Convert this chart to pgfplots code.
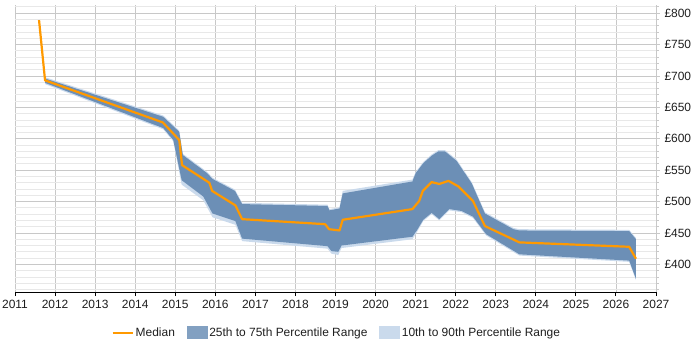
\documentclass[border=0pt]{standalone}
\usepackage{fontspec}
\setmainfont{Liberation Sans}
\usepackage{pgfplots}
\pgfplotsset{compat=1.18}

\definecolor{medianorange}{RGB}{255,153,0}
\definecolor{iqrblue}{RGB}{108,143,182}
\definecolor{decileblue}{RGB}{202,218,236}
\definecolor{majgrid}{RGB}{200,200,200}
\definecolor{mingrid}{RGB}{232,232,232}
\definecolor{labeltext}{RGB}{30,30,30}

\begin{document}
\begin{tikzpicture}
\path[use as bounding box] (-15bp,-58bp) rectangle (685bp,292bp);
\begin{axis}[
  at={(0,0)}, anchor=south west,
  scale only axis, width=641bp, height=287bp,
  xmin=2011, xmax=2027, ymin=356, ymax=813,
  axis x line*=bottom, axis y line*=right,
  x axis line style={-, black, line width=0.9bp},
  y axis line style={-, majgrid, line width=0.8bp},
  xtick={2011,2012,2013,2014,2015,2016,2017,2018,2019,2020,2021,2022,2023,2024,2025,2026,2027},
  xticklabels={2011,2012,2013,2014,2015,2016,2017,2018,2019,2020,2021,2022,2023,2024,2025,2026,2027},
  ytick={400,450,500,550,600,650,700,750,800},
  yticklabels={£400,£450,£500,£550,£600,£650,£700,£750,£800},
  minor ytick={360,370,380,390,410,420,430,440,460,470,480,490,510,520,530,540,560,570,580,590,610,620,630,640,660,670,680,690,710,720,730,740,760,770,780,790,810},
  tick align=outside,
  major tick length=4bp, minor tick length=3bp,
  xtick style={black, line width=0.9bp},
  ytick style={majgrid, line width=0.8bp},
  minor tick style={mingrid},
  xmajorgrids, ymajorgrids, yminorgrids,
  major grid style={majgrid, line width=0.8bp},
  minor grid style={mingrid, line width=0.8bp},
  ticklabel style={font=\fontsize{12}{14}\selectfont, text=labeltext},
  xticklabel style={yshift=-0.5bp},
  yticklabel style={xshift=1bp},
  legend columns=3,
  legend style={draw=none, fill=none, at={(0.502,-0.143)}, anchor=center,
    font=\fontsize{12}{14}\selectfont, text=labeltext,
    /tikz/every even column/.append style={column sep=10bp}},
]
% legend entries in display order
\addlegendimage{legend image code/.code={\draw[medianorange, line width=2.2bp] (0bp,0bp) -- (20bp,0bp);}}
\addlegendentry{Median}
\addlegendimage{legend image code/.code={\fill[iqrblue!85!white] (0bp,-5.5bp) rectangle (20bp,6.5bp);}}
\addlegendentry{25th to 75th Percentile Range}
\addlegendimage{legend image code/.code={\fill[decileblue] (0bp,-5.5bp) rectangle (20bp,6.5bp);}}
\addlegendentry{10th to 90th Percentile Range}

% 10th to 90th percentile band: 90th forward, 10th backward
\addplot[forget plot, draw=none, fill=decileblue] coordinates {
  (2011.75,698) (2014.7,637) (2015.1,613) (2015.19,576) (2015.8,547) (2015.93,538)
  (2016.49,519) (2016.67,498) (2018.8,495) (2018.85,488) (2019.1,491) (2019.18,517)
  (2020.92,535) (2021.0,547) (2021.19,563) (2021.4,575) (2021.57,582) (2021.73,582)
  (2022.02,567) (2022.4,531) (2022.73,483) (2023.44,458) (2023.59,456) (2026.33,455)
  (2026.5,442)
  (2026.5,375) (2026.33,404) (2023.59,414) (2022.76,446) (2022.43,474) (2022.15,483)
  (2021.84,486) (2021.59,470) (2021.4,480) (2021.19,469) (2021.03,451) (2020.92,440)
  (2019.15,426) (2019.07,415) (2018.9,417) (2018.8,425) (2016.67,437) (2016.5,463)
  (2015.93,475) (2015.7,502) (2015.16,527) (2014.95,596) (2014.7,615) (2011.75,687)
} -- cycle;

% 25th to 75th percentile band: 75th forward, 25th backward
\addplot[forget plot, draw=none, fill=iqrblue] coordinates {
  (2011.75,696) (2014.7,635) (2015.1,611) (2015.19,574) (2015.8,545) (2015.93,536)
  (2016.49,517) (2016.67,496) (2018.8,493) (2018.85,486) (2019.1,489) (2019.18,513)
  (2020.92,532) (2021.0,545) (2021.19,561) (2021.4,573) (2021.57,580) (2021.73,580)
  (2022.02,565) (2022.4,529) (2022.73,481) (2023.44,456) (2023.59,454) (2026.33,453)
  (2026.5,440)
  (2026.5,377) (2026.33,406) (2023.59,416) (2022.76,448) (2022.43,476) (2022.15,485)
  (2021.84,488) (2021.59,472) (2021.4,482) (2021.19,471) (2021.03,454) (2020.92,444)
  (2019.15,430) (2019.07,420) (2018.9,421) (2018.8,429) (2016.67,441) (2016.5,469)
  (2015.93,481) (2015.7,508) (2015.16,534) (2014.95,598) (2014.7,617) (2011.75,689)
} -- cycle;

% median
\addplot[forget plot, medianorange, line width=2.2bp, line join=round] coordinates {
  (2011.6,789) (2011.75,693) (2014.69,626) (2015.1,598) (2015.17,558) (2015.85,530)
  (2015.92,517) (2016.5,494) (2016.67,472) (2018.74,464) (2018.84,456) (2019.1,454)
  (2019.18,471) (2020.92,488) (2021.09,501) (2021.18,517) (2021.4,531) (2021.59,528)
  (2021.82,533) (2022.07,524) (2022.43,501) (2022.73,461) (2023.59,435) (2026.33,428)
  (2026.5,409)
};
\end{axis}
\end{tikzpicture}
\end{document}
